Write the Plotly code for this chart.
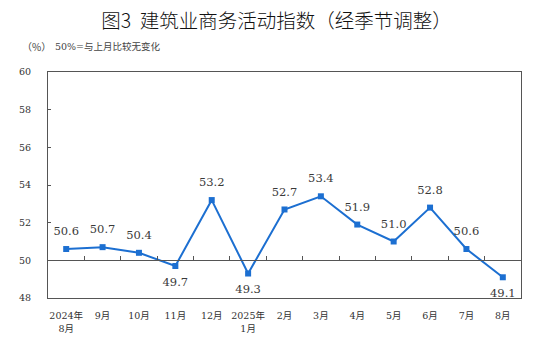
import plotly.graph_objects as go

categories = ["2024年<br>8月", "9月", "10月", "11月", "12月", "2025年<br>1月",
              "2月", "3月", "4月", "5月", "6月", "7月", "8月"]
values = [50.6, 50.7, 50.4, 49.7, 53.2, 49.3, 52.7, 53.4, 51.9, 51.0, 52.8, 50.6, 49.1]
labels = ["50.6", "50.7", "50.4", "49.7", "53.2", "49.3", "52.7", "53.4", "51.9", "51.0", "52.8", "50.6", "49.1"]
label_pos = ["top center", "top center", "top center", "bottom center", "top center",
             "bottom center", "top center", "top center", "top center", "top center",
             "top center", "top center", "bottom center"]
y_ticks = [48, 50, 52, 54, 56, 58, 60]

BLUE = "#1c6fd1"
AXIS = "#555555"
SERIF = "DejaVu Serif"
MIXED = "DejaVu Serif, Noto Sans CJK SC"
CJK = "Noto Sans CJK SC"
x_range = [-0.5, len(categories) - 0.5]

fig = go.Figure()
fig.add_trace(go.Scatter(
    x=categories, y=values, mode="lines+markers",
    line=dict(color=BLUE, width=2),
    marker=dict(symbol="square", size=6, color=BLUE),
    showlegend=False, hoverinfo="skip",
))
# value labels (invisible larger markers give the label offset)
fig.add_trace(go.Scatter(
    x=categories, y=values, mode="markers+text",
    marker=dict(size=16, opacity=0),
    text=labels, textposition=label_pos,
    textfont=dict(family=SERIF, size=11.5, color="#3a3a3a"),
    cliponaxis=False, showlegend=False, hoverinfo="skip",
))
# invisible trace to carry the baseline axis at 50
fig.add_trace(go.Scatter(
    x=categories, y=values, xaxis="x2", mode="markers",
    marker=dict(opacity=0), showlegend=False, hoverinfo="skip",
))

fig.update_layout(
    width=553, height=345,
    margin=dict(l=48, r=32, t=72, b=47),
    paper_bgcolor="white", plot_bgcolor="white",
    title=dict(text="图3  建筑业商务活动指数（经季节调整）",
               x=0.5, xref="container", xanchor="center",
               y=1 - 21 / 345, yref="container", yanchor="middle",
               font=dict(family=CJK, size=19.5, color="#111111", weight=300)),
    xaxis=dict(type="category", categoryarray=categories, range=x_range,
               showline=True, linecolor=AXIS, linewidth=1, mirror=True,
               ticks="", showgrid=False, zeroline=False,
               tickfont=dict(family=MIXED, size=9.5, color="#333333"),
               ticklabelstandoff=9),
    xaxis2=dict(type="category", categoryarray=categories, overlaying="x",
                range=x_range,
                anchor="free", position=(50 - 48) / 12,
                showline=True, linecolor=AXIS, linewidth=1,
                ticks="inside", tickson="boundaries", ticklen=4, tickcolor=AXIS,
                showticklabels=False, showgrid=False, zeroline=False),
    yaxis=dict(range=[48, 60], tickvals=y_ticks,
               showline=True, linecolor=AXIS, linewidth=1, mirror=True,
               ticks="inside", ticklen=3, tickcolor=AXIS,
               showgrid=False, zeroline=False,
               tickfont=dict(family=SERIF, size=9.5, color="#333333"),
               ticklabelstandoff=14),
    annotations=[
        dict(text="（%）", xref="paper", yref="paper",
             x=(20 - 48) / 473, y=(298 - 47) / 226, xanchor="left", yanchor="middle",
             showarrow=False, font=dict(family=CJK, size=10, color="#444444")),
        dict(text="50%=与上月比较无变化", xref="paper", yref="paper",
             x=(53 - 48) / 473, y=(298 - 47) / 226, xanchor="left", yanchor="middle",
             showarrow=False, font=dict(family=MIXED, size=9.5, color="#444444")),
    ],
)

fig.write_html("out.html")
